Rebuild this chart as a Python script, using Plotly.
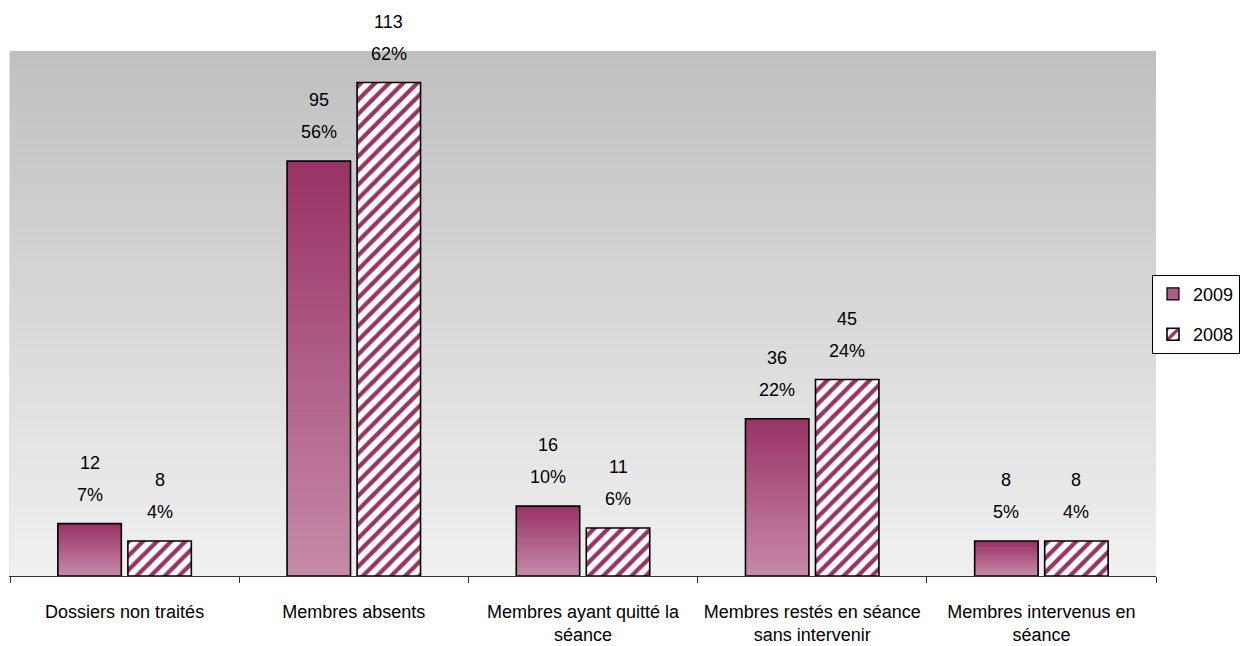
import plotly.graph_objects as go

# ---- data ----
categories = [
    "Dossiers non traités",
    "Membres absents",
    "Membres ayant quitté la<br>séance",
    "Membres restés en séance<br>sans intervenir",
    "Membres intervenus en<br>séance",
]
series_names = ["2009", "2008"]
counts_2009 = [12, 95, 16, 36, 8]
counts_2008 = [8, 113, 11, 45, 8]
shares_2009 = ["7%", "56%", "10%", "22%", "5%"]
shares_2008 = ["4%", "62%", "6%", "24%", "4%"]

# ---- styling ----
FONT = "Liberation Sans, Arial, sans-serif"
FONT_SIZE = 18
PLUM_TOP = (153, 51, 102)
PLUM_BOTTOM = (198, 138, 168)
BG_TOP = (192, 192, 192)
BG_BOTTOM = (240, 240, 240)
W, H = 1240, 646
MARGIN = dict(l=10, r=84, t=52, b=70, autoexpand=False)
BARGAP = 0.389
BARGROUPGAP = 0.094
Y_MAX = 120


def mix(c0, c1, t):
    return "rgb({},{},{})".format(*[round(a + (b - a) * t) for a, b in zip(c0, c1)])


fig = go.Figure()

# legend entry for the gradient-filled series
fig.add_trace(go.Bar(
    name=series_names[0], x=categories, y=[None] * len(categories),
    offsetgroup="a", legendgroup="a",
    marker=dict(color=mix(PLUM_TOP, PLUM_BOTTOM, 0.45), line=dict(color="black", width=1.2)),
    hoverinfo="skip",
))

# hatched series
fig.add_trace(go.Bar(
    name=series_names[1], x=categories, y=counts_2008,
    offsetgroup="b", legendgroup="b",
    marker=dict(
        color="white",
        line=dict(color="black", width=1.6),
        pattern=dict(shape="/", fgcolor=mix(PLUM_TOP, PLUM_TOP, 0), bgcolor="white",
                     size=10, solidity=0.42, fillmode="replace"),
    ),
))

# vertical gradient for the 2009 bars: stacked layers, each one starting a bit higher
N_LAYERS = 48
for k in range(N_LAYERS):
    frac = k / N_LAYERS
    fig.add_trace(go.Bar(
        x=categories,
        base=[v * frac for v in counts_2009],
        y=[v * (1 - frac) for v in counts_2009],
        offsetgroup="a", showlegend=False, hoverinfo="skip",
        marker=dict(color=mix(PLUM_BOTTOM, PLUM_TOP, k / (N_LAYERS - 1)), line=dict(width=0)),
    ))

# outline of the 2009 bars
fig.add_trace(go.Bar(
    name=series_names[0], x=categories, y=counts_2009,
    offsetgroup="a", showlegend=False,
    marker=dict(color="rgba(0,0,0,0)", line=dict(color="black", width=1.6)),
))

# value labels: count on the first line, share below it
plot_w = W - MARGIN["l"] - MARGIN["r"]
slot_px = plot_w / len(categories) * (1 - BARGAP) / 2
annotations = []
for vals, shares, sign in ((counts_2009, shares_2009, -1), (counts_2008, shares_2008, 1)):
    for cat, v, s in zip(categories, vals, shares):
        for txt, lift in ((str(v), 61), (s, 29)):
            annotations.append(dict(
                x=cat, y=v, xref="x", yref="y", text=txt, showarrow=False,
                xshift=sign * slot_px / 2, yshift=lift, yanchor="middle",
                font=dict(family=FONT, size=FONT_SIZE, color="black"),
            ))

# grey vertical gradient behind the bars
N_BANDS = 60
shapes = []
for i in range(N_BANDS):
    shapes.append(dict(
        type="rect", xref="paper", yref="paper", layer="below",
        x0=0, x1=1, y0=i / N_BANDS, y1=(i + 1) / N_BANDS + 0.002,
        fillcolor=mix(BG_BOTTOM, BG_TOP, i / (N_BANDS - 1)), line=dict(width=0),
    ))

fig.update_layout(
    width=W, height=H, margin=MARGIN,
    paper_bgcolor="white", plot_bgcolor="white",
    barmode="group", bargap=BARGAP, bargroupgap=BARGROUPGAP,
    font=dict(family=FONT, size=FONT_SIZE, color="black"),
    shapes=shapes, annotations=annotations,
    showlegend=True,
    legend=dict(
        x=0.9965, xanchor="left", y=0.575, yanchor="top",
        bordercolor="black", borderwidth=1, bgcolor="white",
        font=dict(family=FONT, size=FONT_SIZE, color="black"),
        traceorder="grouped", tracegroupgap=14, itemwidth=30,
    ),
    xaxis=dict(
        showline=True, linecolor="#333333", linewidth=1, tickangle=0,
        ticks="outside", tickson="boundaries", ticklen=6, tickcolor="#333333",
        ticklabelstandoff=19, showgrid=False, fixedrange=True,
    ),
    yaxis=dict(
        range=[0, Y_MAX], visible=True, showticklabels=False, showgrid=False,
        zeroline=False, showline=True, linecolor="#e4e4e4", ticks="", fixedrange=True,
    ),
)

fig.write_html("out.html")
